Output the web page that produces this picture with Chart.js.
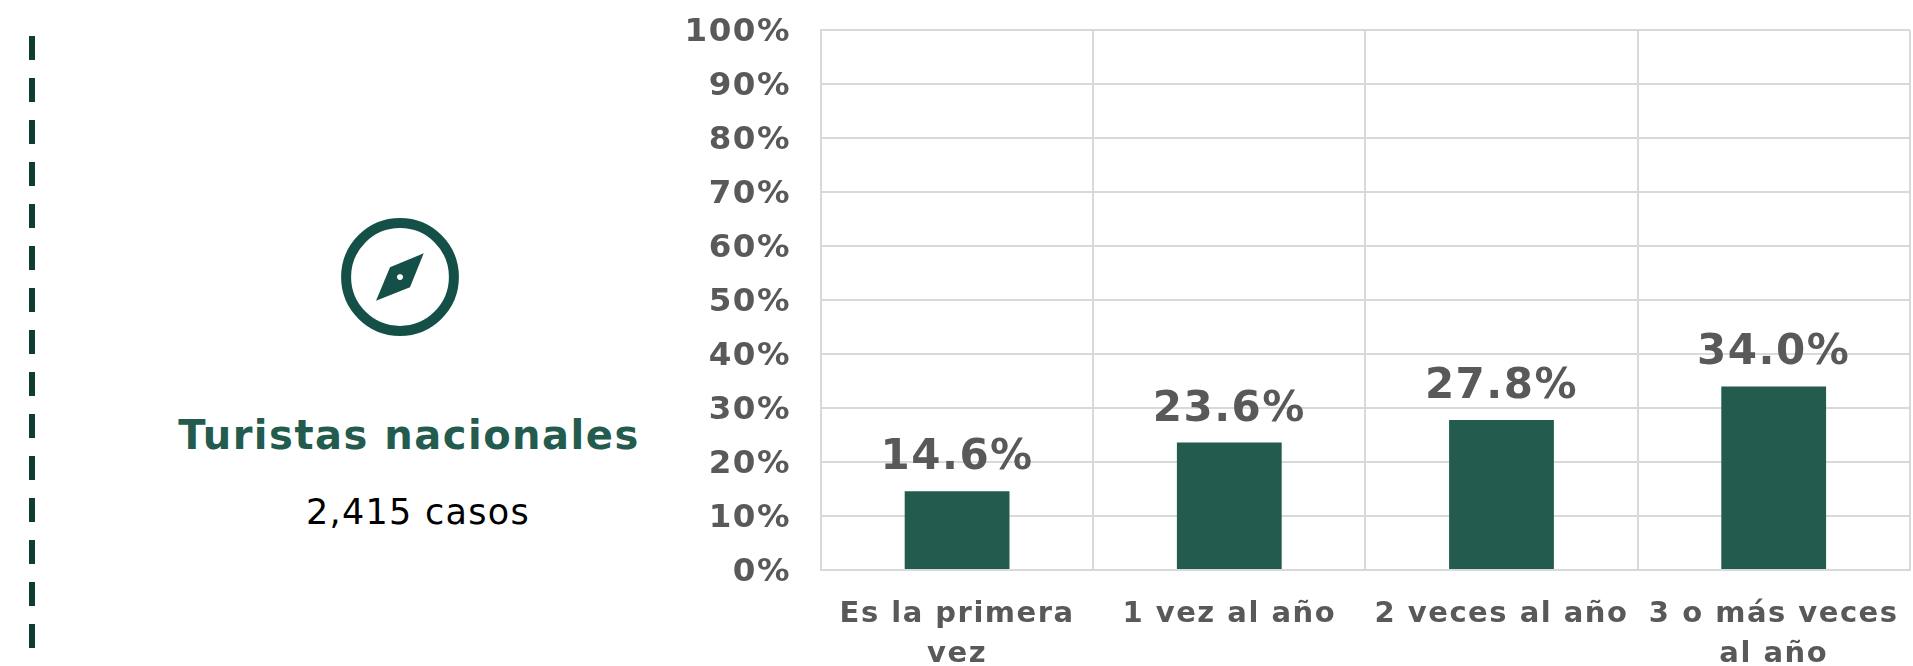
<!DOCTYPE html>
<html lang="es"><head><meta charset="utf-8">
<style>
html,body{margin:0;padding:0;background:#fff;width:1913px;height:666px;overflow:hidden}
#wrap{position:relative;width:1913px;height:666px;overflow:hidden}
canvas{position:absolute;left:0;top:-20px}
.t{position:absolute;white-space:nowrap;font-family:"DejaVu Sans",sans-serif;transform:translateX(-50%)}
#title{left:409px;top:408px;font-size:40px;font-weight:700;color:#235b4e;line-height:54px;letter-spacing:1.5px}
#cases{left:418px;top:488px;font-size:35px;color:#000;line-height:48px;letter-spacing:1.3px}
svg{position:absolute;left:0;top:0}
</style></head><body>
<div id="wrap">
<svg width="1913" height="666">
<line x1="32" y1="36" x2="32" y2="650" stroke="#0f3d33" stroke-width="6" stroke-dasharray="24 18"/>
<circle cx="400" cy="277" r="53.9" fill="none" stroke="#155048" stroke-width="10"/>
<path fill-rule="evenodd" fill="#155048" d="M423.7 253.3L410 287.3L376 300.7L390 267.3Z M400 274a3 3 0 1 0 .01 0Z"/>
</svg>
<div class="t" id="title">Turistas nacionales</div>
<div class="t" id="cases">2,415 casos</div>
<canvas id="c" width="1913" height="686"></canvas>
</div>
<script src="https://cdn.jsdelivr.net/npm/chart.js@4"></script>
<script>
const categories=[["Es la primera","vez"],"1 vez al año","2 veces al año",["3 o más veces","al año"]];
const values=[14.6,23.6,27.8,34.0];
const barColor="#235b4e";
const textColor="#595959";
const fontFamily='"DejaVu Sans",sans-serif';
const valueLabels={id:"valueLabels",
 beforeDraw(chart){
  chart.ctx.letterSpacing="1.5px";
  chart.scales.y.getLabelItems().forEach(it=>{it.options.translation=[it.options.translation[0],it.options.translation[1]+3];});
 },
 afterDatasetsDraw(chart){
  const g=chart.ctx;g.save();g.font="bold 42px "+fontFamily;g.fillStyle=textColor;g.textAlign="center";g.textBaseline="alphabetic";
  chart.getDatasetMeta(0).data.forEach((b,i)=>g.fillText(values[i].toFixed(1)+"%",b.x,b.y-22));
  g.restore();}};
new Chart(document.getElementById("c"),{type:"bar",
 data:{labels:categories,datasets:[{data:values,backgroundColor:barColor,barPercentage:0.385,categoryPercentage:1}]},
 plugins:[valueLabels],
 options:{responsive:false,animation:false,
  layout:{padding:{left:0,top:50,right:2,bottom:0}},
  plugins:{legend:{display:false},tooltip:{enabled:false}},
  scales:{
   x:{afterFit(s){s.height=96},
      grid:{color:"#d9d9d9",lineWidth:2,drawTicks:false,offset:true},border:{color:"#d9d9d9",width:2},
      ticks:{color:textColor,font:{family:fontFamily,weight:"bold",size:29,lineHeight:1.38},padding:24,maxRotation:0,autoSkip:false}},
   y:{min:0,max:100,afterFit(s){s.width=821;s.paddingTop=0;s.paddingBottom=0},
      grid:{color:"#d9d9d9",lineWidth:2,drawTicks:false},border:{color:"#d9d9d9",width:2},
      ticks:{stepSize:10,color:textColor,font:{family:fontFamily,weight:"bold",size:32.5},padding:30,callback:v=>v+"%"}}
  }}});
</script>
</body></html>
